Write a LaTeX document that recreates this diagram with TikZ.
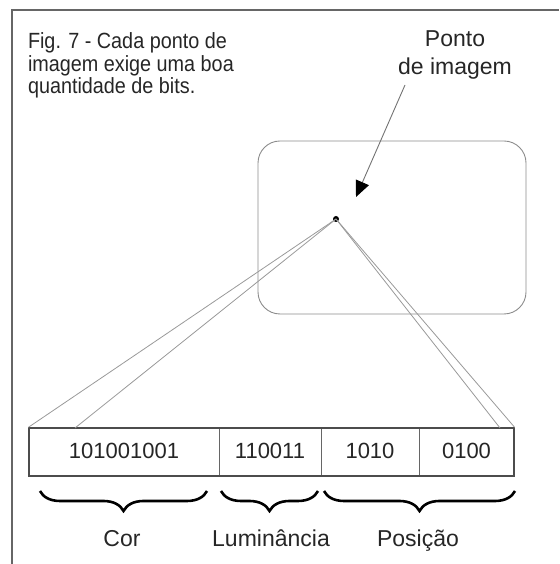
\documentclass[tikz,border=0pt]{standalone}
\usepackage{fontspec}
\setmainfont{Liberation Sans}
\newfontfamily\capfont[FakeStretch=0.9]{Liberation Sans}
\usetikzlibrary{arrows.meta,decorations.pathreplacing}
\begin{document}
\begin{tikzpicture}[x=1pt,y=1pt,
  txt/.style={inner sep=0pt, outer sep=0pt, anchor=base, text=black!85},
  captxt/.style={txt, anchor=base west, font=\capfont\fontsize{22}{24}\selectfont},
  ptxt/.style={txt, font=\fontsize{23}{26}\selectfont},
  bits/.style={txt, font=\fontsize{22}{24}\selectfont},
  lbl/.style={txt, font=\fontsize{23}{26}\selectfont},
  cell/.style={draw=black!60, line width=0.9pt, inner sep=0pt, outer sep=0pt, minimum height=48pt},
  ray/.style={draw=black!40, line width=0.8pt},
  curly/.style={draw=black, line width=2.6pt, decorate, decoration={brace, mirror, amplitude=20pt}},
  frameline/.style={draw=black!60, line width=1.2pt},
]
\useasboundingbox (0,0) rectangle (559,564);
% frame
\coordinate (ftl) at (12,554);
\coordinate (ftr) at (559,554);
\coordinate (fbl) at (12,0);
\draw[frameline] (fbl) -- (ftl) -- (ftr);
% caption
\node[captxt] (cap1) at (28,515) {Fig. 7 - Cada ponto de};
\node[captxt] (cap2) at (28,492.5) {imagem exige uma boa};
\node[captxt] (cap3) at (28,470) {quantidade de bits.};
% label ponto de imagem
\node[ptxt] (pt1) at (455,517) {Ponto};
\node[ptxt] (pt2) at (455,489) {de imagem};
% image area
\node[draw=black!45, line width=0.9pt, rounded corners=22pt, minimum width=268pt, minimum height=173pt, inner sep=0pt] (img) at (392,336.5) {};
% arrow
\coordinate (astart) at (405,479);
\coordinate (atip) at (356,367);
\draw[draw=black!55, line width=0.9pt, -{Triangle[length=16pt,width=14pt,color=black]}] (astart) -- (atip);
% dot
\node[circle, fill=black, inner sep=0pt, minimum size=6pt] (dot) at (336,345) {};
% bit cells
\node[cell, minimum width=190pt] (c1) at (124,112) {};
\node[cell, minimum width=102pt] (c2) at (270,112) {};
\node[cell, minimum width=98pt] (c3) at (370,112) {};
\node[cell, minimum width=95pt] (c4) at (466.5,112) {};
\node[draw=black!70, line width=1.3pt, minimum width=485pt, minimum height=48pt, inner sep=0pt] (box) at (271.5,112) {};
\node[bits] (t1) at (124,105) {101001001};
\node[bits] (t2) at (270,105) {110011};
\node[bits] (t3) at (370,105) {1010};
\node[bits] (t4) at (466.5,105) {0100};
% rays
\coordinate (l2) at (75,136);
\coordinate (r1) at (500,136);
\draw[ray] (dot.center) -- (box.north west);
\draw[ray] (dot.center) -- (l2);
\draw[ray] (dot.center) -- (r1);
\draw[ray] (dot.center) -- (box.north east);
% braces
\coordinate (b1a) at (40,73);
\coordinate (b1b) at (207,73);
\coordinate (b2a) at (221,73);
\coordinate (b2b) at (318,73);
\coordinate (b3a) at (324,73);
\coordinate (b3b) at (515,73);
\draw[curly] (b1a) -- (b1b);
\draw[curly] (b2a) -- (b2b);
\draw[curly] (b3a) -- (b3b);
% labels
\node[lbl] (lcor) at (122,17) {Cor};
\node[lbl] (llum) at (271,17) {Luminância};
\node[lbl] (lpos) at (418,17) {Posição};
\end{tikzpicture}
\end{document}
